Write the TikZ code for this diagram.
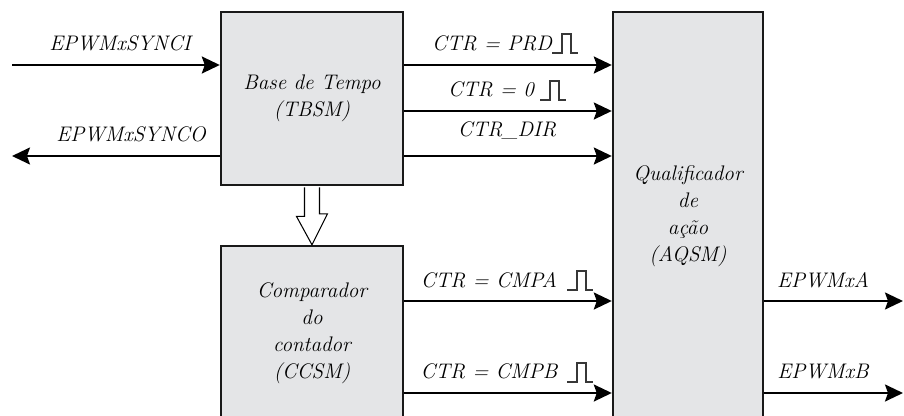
\documentclass[tikz,border=0pt]{standalone}
\usepackage{tikz}
\usetikzlibrary{arrows.meta,positioning,calc}
\definecolor{boxgray}{RGB}{228,229,231}
\definecolor{pulsegray}{RGB}{55,55,55}

\tikzset{
  pulse/.pic={\draw[pulseline] (0,0) -- (10,0) -- (10,-19) -- (19,-19) -- (19,0) -- (26,0);}
}

\begin{document}
\begin{tikzpicture}[x=0.02cm,y=-0.02cm,
  blk/.style={draw=black!90,line width=1.4pt,fill=boxgray,align=center,
    font=\fontsize{12}{15.4}\selectfont\itshape},
  sig/.style={line width=1.2pt,-{Stealth[length=3.6mm,width=3.4mm,inset=0.6mm]}},
  lbl/.style={font=\large\itshape,inner sep=0pt},
  pulseline/.style={draw=pulsegray,line width=0.8pt},
  hollow/.style={draw,line width=0.6pt,fill=white}]

\clip (0,0) rectangle (904,416);

% blocos
\node[blk,minimum width=3.64cm,minimum height=3.46cm] (tbsm) at (312,98.5) {Base de Tempo\\(TBSM)};
\node[blk,minimum width=3.64cm,minimum height=3.48cm] (ccsm) at (312,333) {Comparador\\do\\contador\\(CCSM)};
\node[blk,minimum width=3.0cm,minimum height=8.16cm] (aqsm) at (688,216) {Qualificador\\de\\ação\\(AQSM)};

\coordinate (synci) at (12,65);
\coordinate (synco) at (12,156);
\coordinate (cmpa) at (0,301);
\coordinate (cmpb) at (0,393);
\coordinate (out) at (903,0);

% sincronismo
\draw[sig] (synci) -- (synci -| tbsm.west);
\draw[sig] (synco -| tbsm.west) -- (synco);
\node[lbl] (lsynci) at (120,43) {EPWMxSYNCI};
\node[lbl] (lsynco) at (131,134) {EPWMxSYNCO};

% TBSM -> AQSM
\draw[sig] (tbsm.east |- synci) -- (aqsm.west |- synci);
\draw[sig] ($(tbsm.east)+(0,12.5)$) -- ($(aqsm.west |- tbsm.east)+(0,12.5)$);
\draw[sig] (tbsm.east |- synco) -- (aqsm.west |- synco);
\node[lbl] (lprd) at (492,43) {CTR = PRD};
\node[lbl] (lzero) at (491,89) {CTR = 0};
\node[lbl] (ldir) at (507,131) {CTR\_DIR};
\pic at (552,53) {pulse};
\pic at (540,100) {pulse};

% TBSM -> CCSM
\draw[hollow] ($(tbsm.south)+(-7.5,1.2)$) -- ++(0,29) -- ++(-8,0) -- (ccsm.north)
  -- ($(ccsm.north)+(15.5,-31)$) -- ++(-8,0) -- ($(tbsm.south)+(7.5,1.2)$);

% CCSM -> AQSM
\draw[sig] (ccsm.east |- cmpa) -- (aqsm.west |- cmpa);
\draw[sig] (ccsm.east |- cmpb) -- (aqsm.west |- cmpb);
\node[lbl] (lcmpa) at (489,280) {CTR = CMPA};
\node[lbl] (lcmpb) at (489,371) {CTR = CMPB};
\pic at (567,290) {pulse};
\pic at (567,382) {pulse};

% saidas
\draw[sig] (aqsm.east |- cmpa) -- (out |- cmpa);
\draw[sig] (aqsm.east |- cmpb) -- (out |- cmpb);
\node[lbl] (la) at (823,280) {EPWMxA};
\node[lbl] (lb) at (823,372) {EPWMxB};

\end{tikzpicture}
\end{document}
